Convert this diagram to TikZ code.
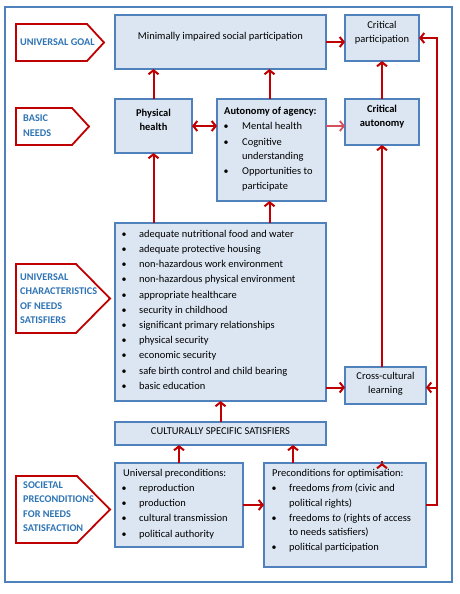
\documentclass[tikz,border=0pt]{standalone}
\usepackage{fontspec}
\setmainfont{Carlito}
\usetikzlibrary{arrows.meta}
\definecolor{boxfill}{HTML}{DCE6F2}
\definecolor{boxline}{HTML}{4F81BD}
\definecolor{arrred}{HTML}{C00000}
\definecolor{lightred}{HTML}{D4505C}
\definecolor{labtext}{HTML}{2E74B5}
\begin{document}
\begin{tikzpicture}[x=1bp,y=-1bp,
  box/.style={draw=boxline, fill=boxfill, line width=1.6bp, inner sep=0pt, outer sep=0pt},
  flow/.style={draw=arrred, line width=2bp, -{Straight Barb[length=4bp,width=10bp,line width=2bp]}},
  biflow/.style={draw=arrred, line width=2bp, {Straight Barb[length=4bp,width=10bp,line width=2bp]}-{Straight Barb[length=4bp,width=10bp,line width=2bp]}},
  lightflow/.style={draw=lightred, line width=1.8bp, -{Straight Barb[length=4bp,width=10bp,line width=1.8bp]}},
  txt/.style={font=\fontsize{10.5}{12.5}\selectfont, inner sep=0pt, anchor=mid west},
  ctxt/.style={font=\fontsize{10.5}{12.5}\selectfont, inner sep=0pt, anchor=mid},
  btxt/.style={font=\fontsize{10.5}{12.5}\selectfont\bfseries, inner sep=0pt, anchor=mid},
  bul/.style={font=\fontsize{10}{12}\selectfont, inner sep=0pt, anchor=mid},
  labshape/.style={draw=arrred, line width=1.8bp, fill=white, line join=miter},
  labt/.style={font=\fontsize{10.3}{12}\selectfont\bfseries, text=labtext, inner sep=0pt, anchor=mid west}
]
\useasboundingbox (0,0) rectangle (460,594);
% outer frame
\draw[draw=boxline, line width=1.6bp] (5,7) rectangle (452,582);

% boxes
\node[box, minimum width=211bp, minimum height=54bp] (goal) at (220.5,42) {};
\node[box, minimum width=74bp, minimum height=46bp] (critpart) at (382,38) {};
\node[box, minimum width=77bp, minimum height=54bp] (phys) at (153.5,126) {};
\node[box, minimum width=109bp, minimum height=102bp] (auton) at (271.5,150) {};
\node[box, minimum width=74bp, minimum height=46bp] (critaut) at (382,122) {};
\node[box, minimum width=211bp, minimum height=178bp] (sat) at (220.5,312) {};
\node[box, minimum width=81bp, minimum height=37bp] (cross) at (385.5,385.5) {};
\node[box, minimum width=211bp, minimum height=23bp] (cult) at (220.5,433.5) {};
\node[box, minimum width=128bp, minimum height=84bp] (univ) at (179,505) {};
\node[box, minimum width=162bp, minimum height=104bp] (optim) at (345,515) {};

% box texts
\node[ctxt] (goalt) at (220.5,37) {Minimally impaired social participation};
\node[ctxt] (critpart1) at (382,26) {Critical};
\node[ctxt] (critpart2) at (382,40) {participation};
\node[btxt] (phys1) at (153.5,114) {Physical};
\node[btxt] (phys2) at (153.5,128) {health};
\node[btxt] (critaut1) at (382,110) {Critical};
\node[btxt] (critaut2) at (382,124) {autonomy};
\node[ctxt] (cross1) at (385.5,377) {Cross-cultural};
\node[ctxt] (cross2) at (385.5,391) {learning};
\node[ctxt] (cultt) at (220.5,432.5) {CULTURALLY SPECIFIC SATISFIERS};

% autonomy list
\node[txt, font=\fontsize{10.5}{12.5}\selectfont\bfseries] (aut0) at (224,112) {Autonomy of agency:};
\node[bul] (autb1) at (226,127) {•};
\node[txt] (aut1) at (242,127) {Mental health};
\node[bul] (autb2) at (226,143) {•};
\node[txt] (aut2) at (242,143) {Cognitive};
\node[txt] (aut3) at (242,157) {understanding};
\node[bul] (autb4) at (226,172) {•};
\node[txt] (aut4) at (242,172) {Opportunities to};
\node[txt] (aut5) at (242,187) {participate};

% satisfiers list
\foreach \t [count=\i from 0] in {adequate nutritional food and water, adequate protective housing, non-hazardous work environment, non-hazardous physical environment, appropriate healthcare, security in childhood, significant primary relationships, physical security, economic security, safe birth control and child bearing, basic education}{
  \node[bul] (satb\i) at (124,{235+15.2*\i}) {•};
  \node[txt] (sat\i) at (139,{235+15.2*\i}) {\t};
}

% universal preconditions
\node[txt] (univ0) at (123,474) {Universal preconditions:};
\foreach \t [count=\i from 1] in {reproduction, production, cultural transmission, political authority}{
  \node[bul] (univb\i) at (124,{474+15.2*\i}) {•};
  \node[txt] (univ\i) at (139,{474+15.2*\i}) {\t};
}

% optimisation
\node[txt] (opt0) at (272,474) {Preconditions for optimisation:};
\node[bul] (optb1) at (274,489) {•};
\node[txt] (opt1) at (289,489) {freedoms \textit{from} (civic and};
\node[txt] (opt2) at (289,504) {political rights)};
\node[bul] (optb3) at (274,519) {•};
\node[txt] (opt3) at (289,519) {freedoms \textit{to} (rights of access};
\node[txt] (opt4) at (289,533.5) {to needs satisfiers)};
\node[bul] (optb5) at (274,548) {•};
\node[txt] (opt5) at (289,548) {political participation};

% left labels
\draw[labshape] (16,24) -- (87,24) -- (104,42.5) -- (87,61) -- (16,61) -- cycle;
\node[labt] (lab1) at (20,43) {UNIVERSAL GOAL};
\draw[labshape] (16,108) -- (72,108) -- (89,126.5) -- (72,145) -- (16,145) -- cycle;
\node[labt] (lab2a) at (23,119) {BASIC};
\node[labt] (lab2b) at (23,134) {NEEDS};
\draw[labshape] (16,264) -- (76,264) -- (110,298.5) -- (76,333) -- (16,333) -- cycle;
\node[labt] (lab3a) at (20,278) {UNIVERSAL};
\node[labt] (lab3b) at (20,292.5) {CHARACTERISTICS};
\node[labt] (lab3c) at (20,307) {OF NEEDS};
\node[labt] (lab3d) at (20,321.5) {SATISFIERS};
\draw[labshape] (16,476) -- (77,476) -- (110,509.5) -- (77,543) -- (16,543) -- cycle;
\node[labt] (lab4a) at (23,486) {SOCIETAL};
\node[labt] (lab4b) at (23,500.5) {PRECONDITIONS};
\node[labt] (lab4c) at (23,515) {FOR NEEDS};
\node[labt] (lab4d) at (23,529.5) {SATISFACTION};

% connectors
\draw[flow] (phys.north) -- (phys.north |- goal.south);
\draw[flow] ([xshift=-2bp]auton.north) -- ([xshift=-2bp]auton.north |- goal.south);
\draw[flow] (goal.east) -- (goal.east -| critpart.west);
\draw[flow] (critaut.north) -- (critpart.south);
\draw[biflow] (phys.east) -- (phys.east -| auton.west);
\draw[lightflow] (auton.east |- phys.east) -- (phys.east -| critaut.west);
\draw[flow] (sat.north -| phys) -- (phys.south);
\draw[flow] ([xshift=-2bp]sat.north -| auton) -- ([xshift=-2bp]auton.south);
\draw[flow] ([yshift=-2bp]sat.east |- cross) -- ([yshift=-2bp]cross.west);
\draw[flow] (cross.north -| critaut) -- (critaut.south);
\draw[flow] (cult.north) -- (sat.south);
\draw[flow] (univ.north) -- (univ.north |- cult.south);
\draw[flow] ([xshift=29bp]optim.north west) -- ([xshift=29bp]optim.north west |- cult.south);
\draw[flow] (optim.north -| critaut) -- (optim.north -| critaut |- cross.south);
\draw[flow] (univ.east) -- (univ.east -| optim.west);
\coordinate (rail) at (437,0);
\draw[flow] (optim.east |- univ.east) -- (rail |- univ.east) -- (rail |- critpart.east) -- (critpart.east);
\draw[flow] ([yshift=-2bp]rail |- cross.east) -- ([yshift=-2bp]cross.east);
\end{tikzpicture}
\end{document}
